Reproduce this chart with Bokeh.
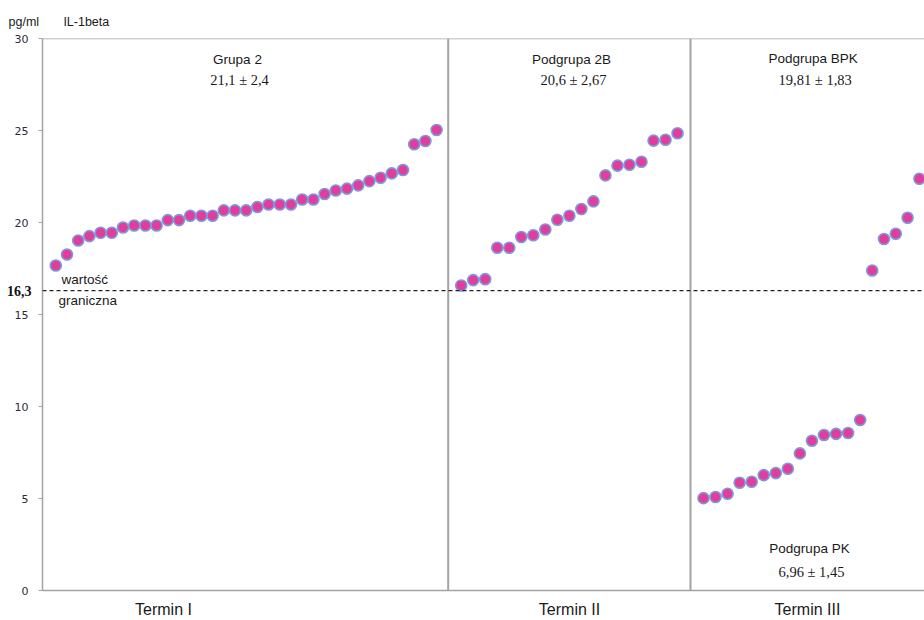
from bokeh.plotting import figure
from bokeh.models import (Range1d, FixedTicker, Span, Label, ColumnDataSource,
                          LinearAxis, Title)
from bokeh.embed import file_html
from bokeh.resources import INLINE

# IL-1beta concentrations (pg/ml), sorted ascending within each group
grupa_2 = [17.66, 18.26, 19.02, 19.26, 19.44, 19.44, 19.73, 19.84, 19.84, 19.84,
           20.13, 20.13, 20.37, 20.37, 20.37, 20.66, 20.66, 20.66, 20.84, 20.98,
           20.98, 20.98, 21.25, 21.25, 21.55, 21.74, 21.84, 22.02, 22.25, 22.43,
           22.67, 22.85, 24.25, 24.43, 25.03]
podgrupa_2b = [16.58, 16.87, 16.92, 18.63, 18.63, 19.21, 19.31, 19.62, 20.15, 20.37,
               20.73, 21.15, 22.56, 23.09, 23.14, 23.30, 24.45, 24.50, 24.85]
podgrupa_pk = [5.02, 5.08, 5.26, 5.86, 5.91, 6.27, 6.38, 6.62, 7.45, 8.14,
               8.45, 8.51, 8.56, 9.27]
podgrupa_bpk = [17.39, 19.10, 19.39, 20.26, 22.38]

group_stats = ["21,1 ± 2,4", "20,6 ± 2,67", "19,81 ± 1,83", "6,96 ± 1,45"]
group_names = ["Grupa 2", "Podgrupa 2B", "Podgrupa BPK", "Podgrupa PK"]
termin_labels = ["Termin I", "Termin II", "Termin III"]
y_ticks = [0, 5, 10, 15, 20, 25, 30]
threshold = 16.3
threshold_label = "16,3"
unit_label = "pg/ml"
analyte_label = "IL-1beta"

# horizontal layout (x axis units = pixels across the plot frame)
W = 882
panel_edges = [405.7, 648]
termin_x = [121, 527, 765]
series_layout = [  # (values, first x, step)
    (grupa_2, 13.3, 11.2),
    (podgrupa_2b, 418.7, 12.02),
    (podgrupa_pk, 661.0, 12.05),
    (podgrupa_bpk, 829.7, 11.8),
]

p = figure(width=924, height=620, output_backend="svg", toolbar_location=None,
           x_range=Range1d(0, W), y_range=Range1d(0, 30),
           min_border_left=42, min_border_right=0, min_border_top=38,
           min_border_bottom=30)
p.outline_line_color = None
p.background_fill_color = "white"
p.border_fill_color = "white"
p.xgrid.visible = False
p.ygrid.visible = False

AX = "#a3a3a3"
SANS = "Liberation Sans"
SERIF = "Liberation Serif"

# y axis
ya = p.yaxis[0]
ya.ticker = FixedTicker(ticks=y_ticks)
ya.axis_line_color = AX
ya.axis_line_width = 1.5
ya.major_tick_line_color = AX
ya.major_tick_out = 4
ya.major_tick_in = 0
ya.minor_tick_line_color = None
ya.major_label_standoff = 10
ya.major_label_text_font = "DejaVu Sans"
ya.major_label_text_font_size = "11px"
ya.major_label_text_color = "#2e2a3a"

# extra left axis that only carries the threshold value
ta = LinearAxis(ticker=FixedTicker(ticks=[threshold]),
                major_label_overrides={threshold: threshold_label},
                axis_line_color=None, major_tick_line_color=None,
                minor_tick_line_color=None, major_tick_out=0, major_tick_in=0,
                major_label_standoff=-20,
                major_label_text_font=SERIF, major_label_text_font_size="14px",
                major_label_text_font_style="bold",
                major_label_text_color="#111111")
p.add_layout(ta, "left")

# x axis carrying the time-point names
xa = p.xaxis[0]
xa.ticker = FixedTicker(ticks=termin_x)
xa.major_label_overrides = {t: lab for t, lab in zip(termin_x, termin_labels)}
xa.axis_line_color = AX
xa.axis_line_width = 1.5
xa.major_tick_line_color = None
xa.major_tick_out = 0
xa.major_tick_in = 0
xa.minor_tick_line_color = None
xa.major_label_standoff = 10
xa.major_label_text_font = SANS
xa.major_label_text_font_size = "16px"
xa.major_label_text_color = "#1a1a1a"

# unit and analyte name above the frame
nb = "\u00a0"
p.add_layout(Title(text=unit_label + nb * 7 + analyte_label, align="left",
                   offset=-34, standoff=19, text_font=SANS,
                   text_font_size="12.5px", text_font_style="normal",
                   text_color="#1a1a1a"), "above")

# frame top and panel dividers
p.add_layout(Span(location=30, dimension="width", line_color=AX, line_width=1.5))
for e in panel_edges:
    p.add_layout(Span(location=e, dimension="height", line_color=AX, line_width=2))

# threshold
p.add_layout(Span(location=threshold, dimension="width", line_color="#222222",
                  line_width=1.3, line_dash="4 3"))

# data points
for vals, x0, step in series_layout:
    xs = [x0 + i * step for i in range(len(vals))]
    src = ColumnDataSource(dict(x=xs, y=vals))
    p.scatter("x", "y", source=src, size=11, fill_color="#e23d9b",
              line_color="#7d98de", line_width=1.6)


def add_text(x, y, text, font=SANS, size="13.5px", align="center",
             x_offset=0, y_offset=0):
    p.add_layout(Label(x=x, y=y, text=text, text_font=font, text_font_size=size,
                       text_align=align, text_baseline="middle",
                       text_color="#1a1a1a", x_offset=x_offset, y_offset=y_offset))


# group titles and mean ± SD
title_pos = [(195, 28.86, 27.72), (529, 28.86, 27.72), (770.7, 28.9, 27.72),
             (767, 2.28, 1.03)]
for (x, y_name, y_stat), name, stat in zip(title_pos, group_names, group_stats):
    add_text(x, y_name, name)
    add_text(x + 2, y_stat, stat, font=SERIF, size="14.5px")

# threshold annotations
add_text(19, threshold, "wartość", align="left", y_offset=11)
add_text(16, threshold, "graniczna", align="left", y_offset=-10)

open("out.html", "w").write(file_html(p, INLINE))
